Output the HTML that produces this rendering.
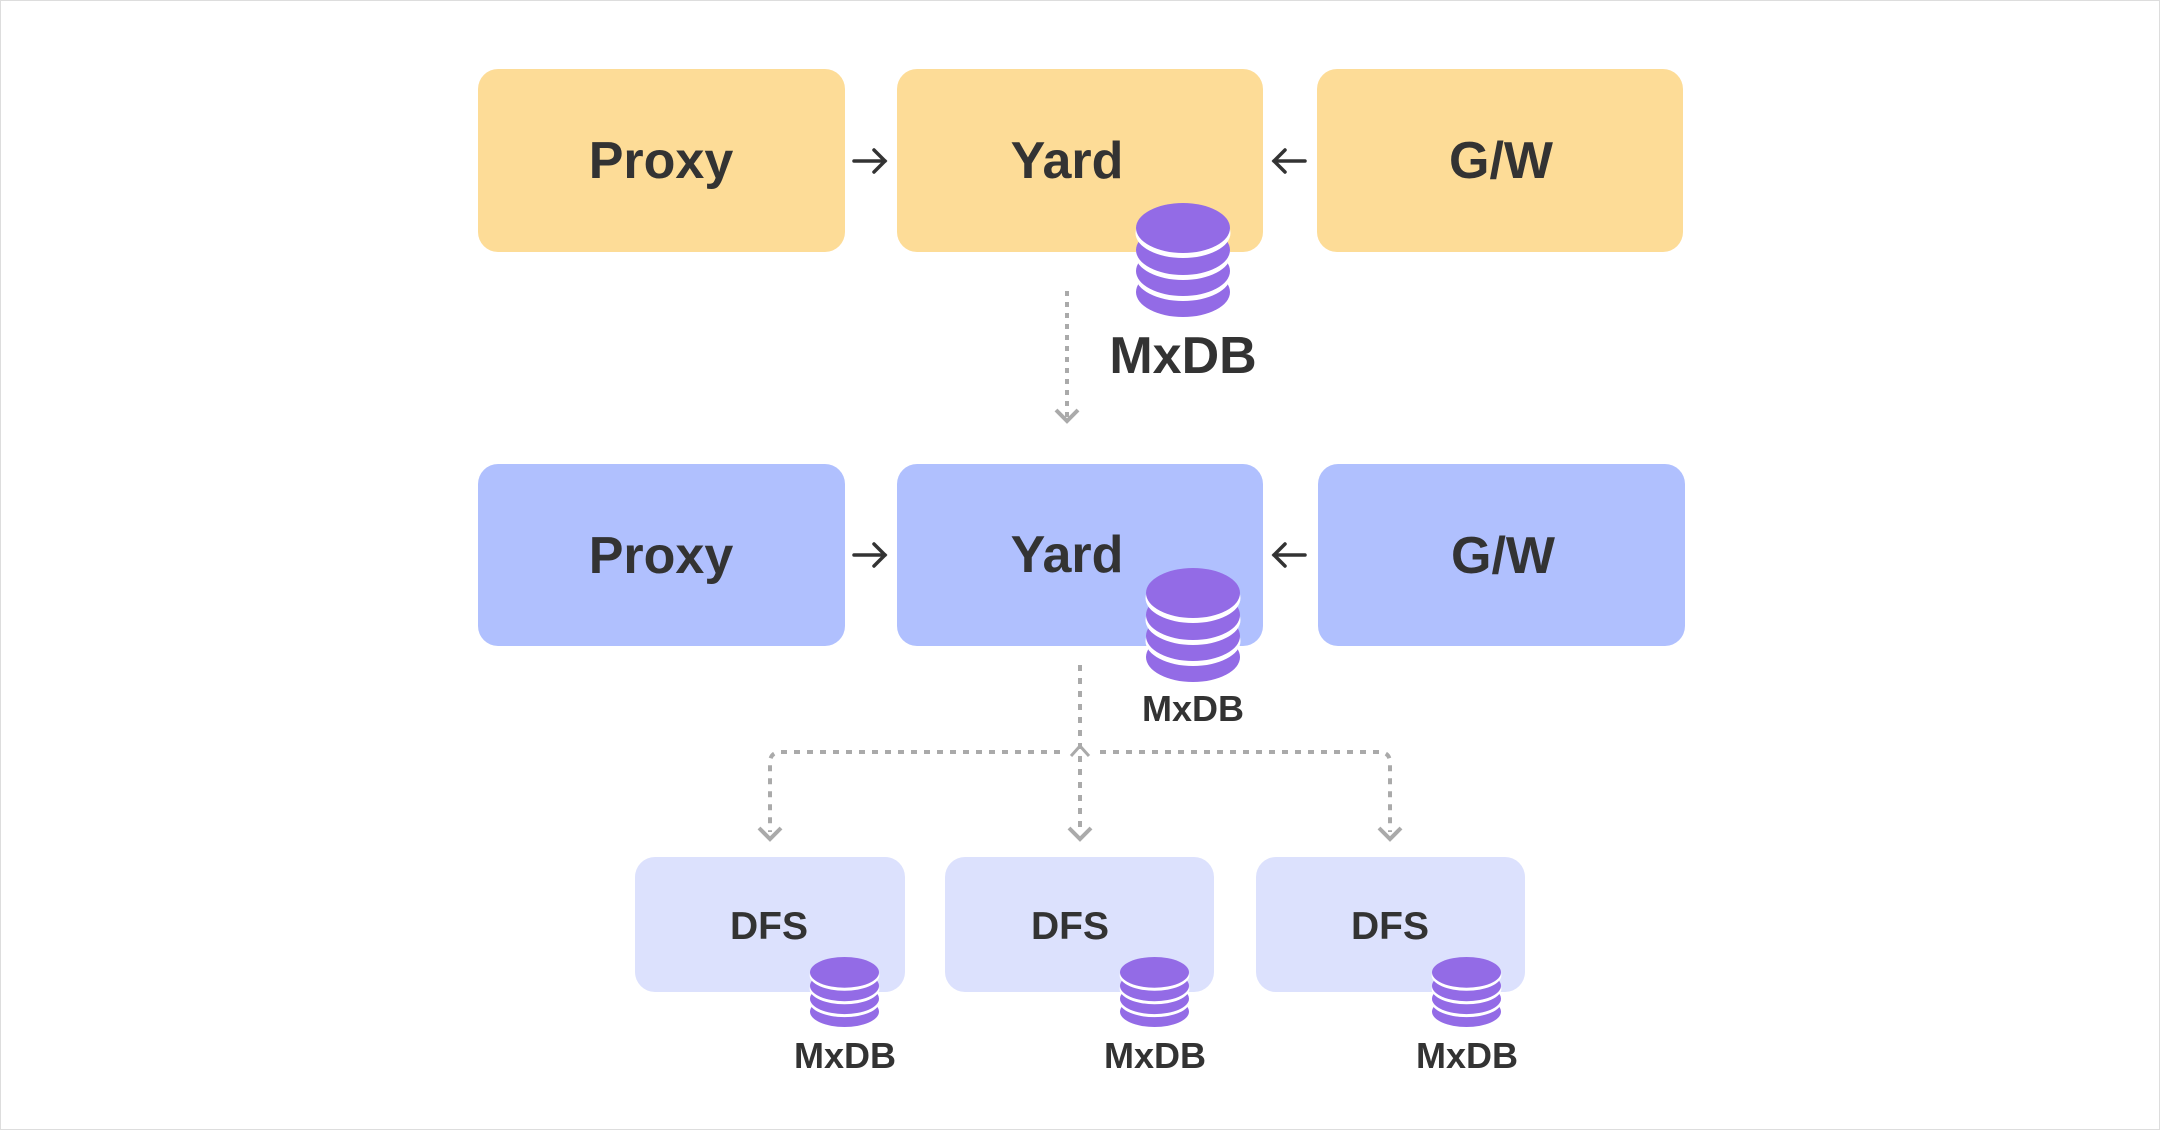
<!DOCTYPE html>
<html><head><meta charset="utf-8"><style>
html,body{margin:0;padding:0;background:#fff;}
svg{display:block;}
text{font-family:"Liberation Sans",sans-serif;font-weight:bold;fill:#333;text-anchor:middle;}
</style></head><body>
<svg width="2160" height="1130" viewBox="0 0 2160 1130" xmlns="http://www.w3.org/2000/svg">
<defs>
<g id="db">
<ellipse cx="47" cy="89" rx="47" ry="25" fill="#936BE6"/>
<ellipse cx="47" cy="73" rx="47.5" ry="25" fill="#fff"/>
<ellipse cx="47" cy="68" rx="47" ry="25" fill="#936BE6"/>
<ellipse cx="47" cy="52" rx="47.5" ry="25" fill="#fff"/>
<ellipse cx="47" cy="47" rx="47" ry="25" fill="#936BE6"/>
<ellipse cx="47" cy="30" rx="47.5" ry="25" fill="#fff"/>
<ellipse cx="47" cy="25" rx="47" ry="25" fill="#936BE6"/>
</g>
<g id="ch"><polyline points="-11,-10 0,1 11,-10" fill="none" stroke="#aaa" stroke-width="4"/></g>
</defs>
<rect x="0.5" y="0.5" width="2159" height="1129" fill="#fff" stroke="#ddd"/>
<rect x="478" y="69" width="367" height="183" rx="20" fill="#FDDC97"/>
<rect x="897" y="69" width="366" height="183" rx="20" fill="#FDDC97"/>
<rect x="1317" y="69" width="366" height="183" rx="20" fill="#FDDC97"/>
<text x="661" y="178" font-size="52">Proxy</text>
<text x="1067" y="178" font-size="52">Yard</text>
<text x="1501" y="178" font-size="52">G/W</text>
<g stroke="#333" stroke-width="3.5" fill="none" stroke-linecap="round">
<line x1="854" y1="161" x2="885" y2="161"/><polyline points="874,150 885,161 874,172"/>
<line x1="1274" y1="161" x2="1305" y2="161"/><polyline points="1285,150 1274,161 1285,172"/>
<line x1="854" y1="555" x2="885" y2="555"/><polyline points="874,544 885,555 874,566"/>
<line x1="1274" y1="555" x2="1305" y2="555"/><polyline points="1285,544 1274,555 1285,566"/>
</g>
<use href="#db" x="1136" y="203"/>
<text x="1183" y="373" font-size="52">MxDB</text>
<line x1="1067" y1="291" x2="1067" y2="418" stroke="#aaa" stroke-width="4" stroke-dasharray="5,6"/>
<use href="#ch" x="1067" y="420"/>
<rect x="478" y="464" width="367" height="182" rx="20" fill="#B0C0FE"/>
<rect x="897" y="464" width="366" height="182" rx="20" fill="#B0C0FE"/>
<rect x="1318" y="464" width="367" height="182" rx="20" fill="#B0C0FE"/>
<text x="661" y="573" font-size="52">Proxy</text>
<text x="1067" y="572" font-size="52">Yard</text>
<text x="1503" y="573" font-size="52">G/W</text>
<use href="#db" x="1146" y="568"/>
<text x="1193" y="721" font-size="36">MxDB</text>
<g stroke="#aaa" stroke-width="4" fill="none" stroke-dasharray="6,7">
<line x1="1080" y1="665" x2="1080" y2="832"/>
<path d="M1060,752 H781 Q770,752 770,763 V832"/>
<path d="M1100,752 H1379 Q1390,752 1390,763 V832"/>
</g>
<use href="#ch" x="770" y="838"/>
<use href="#ch" x="1080" y="838"/>
<use href="#ch" x="1390" y="838"/>
<polyline points="1071,756 1080,746 1089,756" fill="none" stroke="#aaa" stroke-width="3"/>
<rect x="635" y="857" width="270" height="135" rx="20" fill="#DCE1FD"/>
<rect x="945" y="857" width="269" height="135" rx="20" fill="#DCE1FD"/>
<rect x="1256" y="857" width="269" height="135" rx="20" fill="#DCE1FD"/>
<text x="769" y="939" font-size="39">DFS</text>
<text x="1070" y="939" font-size="39">DFS</text>
<text x="1390" y="939" font-size="39">DFS</text>
<use href="#db" transform="translate(810,957) scale(0.734,0.614)"/>
<use href="#db" transform="translate(1120,957) scale(0.734,0.614)"/>
<use href="#db" transform="translate(1432,957) scale(0.734,0.614)"/>
<text x="845" y="1068" font-size="36">MxDB</text>
<text x="1155" y="1068" font-size="36">MxDB</text>
<text x="1467" y="1068" font-size="36">MxDB</text>
</svg>
</body></html>
